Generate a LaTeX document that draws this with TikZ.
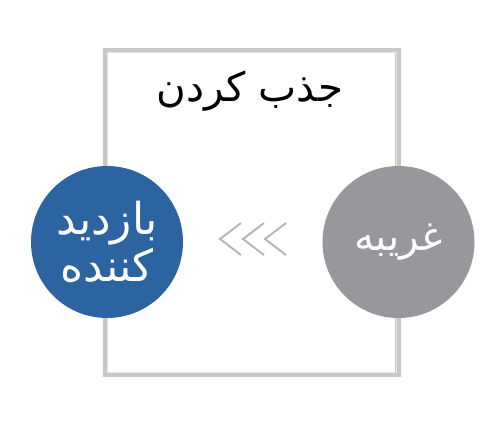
\documentclass[tikz,border=0pt]{standalone}
\usepackage{fontspec}
\TeXXeTstate=1
\newfontfamily\arabicfont[Script=Arabic]{DejaVu Sans}
\definecolor{framegray}{HTML}{C8C8C8}
\definecolor{framelight}{HTML}{E4E4E4}
\definecolor{visblue}{HTML}{2B64A0}
\definecolor{strgray}{HTML}{97989C}
\definecolor{chevgray}{HTML}{B2B6BA}
\tikzset{
  bubble/.style={circle, minimum size=152*0.02cm, inner sep=0pt, text=white, align=center},
  chev/.style={draw=chevgray, line width=1.1pt, line join=miter},
  titletext/.style={font=\arabicfont\fontsize{23}{26}\selectfont, text=black}
}
\begin{document}
\begin{tikzpicture}[x=0.02cm, y=-0.02cm]
\useasboundingbox (0,0) rectangle (500,423);
\fill[white] (0,0) rectangle (500,423);
% frame
\coordinate (fa) at (105.5,50.5);
\coordinate (fb) at (398,374.5);
\draw[draw=framegray, line width=3pt] (fa) rectangle (fb);
\draw[draw=framelight, line width=0.8pt] ([xshift=1pt,yshift=-1pt]fa) rectangle ([xshift=-1pt,yshift=1pt]fb);
% title
\node[titletext] (title) at (250,91) {\beginR جذب کردن\endR};
% circles
\node[bubble, fill=visblue, font=\arabicfont\fontsize{25}{26.5}\selectfont] (visitor) at (107,242) {\beginR بازدید\endR\\\beginR کننده\endR};
\node[bubble, fill=strgray, font=\arabicfont\fontsize{23}{24}\selectfont] (stranger) at (398.5,242) {\beginR غریبه\endR};
% chevrons
\foreach \i/\x in {1/220,2/243,3/265}{
  \coordinate (ct\i) at (\x,239);
  \coordinate (cu\i) at (\x+21,223);
  \coordinate (cl\i) at (\x+21,255);
  \draw[chev] (cu\i) -- (ct\i) -- (cl\i);
}
\end{tikzpicture}
\end{document}
